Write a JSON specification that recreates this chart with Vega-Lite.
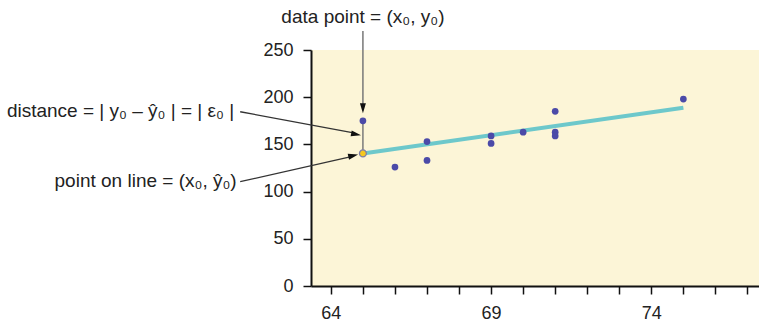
{
  "$schema": "https://vega.github.io/schema/vega-lite/v6.json",
  "width": 448,
  "height": 236,
  "autosize": "none",
  "padding": {"left": 311, "top": 50, "right": 0, "bottom": 38},
  "config": {
    "view": {"fill": "#FCF5D7", "stroke": null},
    "font": "Liberation Sans",
    "text": {"font": "Liberation Sans"}
  },
  "datasets": {
    "scores": [
      {"third_exam": 65, "final_exam": 175},
      {"third_exam": 67, "final_exam": 133},
      {"third_exam": 71, "final_exam": 185},
      {"third_exam": 71, "final_exam": 163},
      {"third_exam": 66, "final_exam": 126},
      {"third_exam": 75, "final_exam": 198},
      {"third_exam": 67, "final_exam": 153},
      {"third_exam": 70, "final_exam": 163},
      {"third_exam": 71, "final_exam": 159},
      {"third_exam": 69, "final_exam": 151},
      {"third_exam": 69, "final_exam": 159}
    ],
    "fit": [
      {"third_exam": 65, "final_exam": 140.44},
      {"third_exam": 75, "final_exam": 188.74}
    ]
  },
  "layer": [
    {
      "data": {"name": "fit"},
      "mark": {"type": "line", "color": "#6DC8CB", "strokeWidth": 4},
      "encoding": {
        "x": {
          "field": "third_exam", "type": "quantitative",
          "scale": {"domain": [63.38, 77.36], "nice": false, "zero": false},
          "axis": {
            "title": null, "grid": false,
            "values": [64, 65, 66, 67, 68, 69, 70, 71, 72, 73, 74, 75, 76, 77],
            "tickCount": 40,
            "format": "d",
            "labelExpr": "(datum.value - 64) % 5 === 0 ? datum.label : ''",
            "labelFlush": false, "labelOverlap": false,
            "domainColor": "#111", "domainWidth": 2,
            "tickColor": "#111", "tickWidth": 1.5, "tickSize": 8,
            "labelPadding": 10, "labelFontSize": 18, "labelColor": "#222",
            "labelFont": "Liberation Sans"
          }
        },
        "y": {
          "field": "final_exam", "type": "quantitative",
          "scale": {"domain": [0, 250], "nice": false},
          "axis": {
            "title": null, "grid": false,
            "values": [0, 50, 100, 150, 200, 250],
            "tickCount": 40,
            "format": "d",
            "labelOverlap": false,
            "domainColor": "#111", "domainWidth": 2,
            "tickColor": "#111", "tickWidth": 1.5, "tickSize": 8,
            "labelPadding": 10, "labelFontSize": 18, "labelColor": "#222",
            "labelFont": "Liberation Sans"
          }
        }
      }
    },
    {
      "data": {"values": [{"x": 65, "y": 175, "y2": 140.44}]},
      "mark": {"type": "rule", "color": "#7a7a7a", "strokeWidth": 1.5},
      "encoding": {
        "x": {"field": "x", "type": "quantitative"},
        "y": {"field": "y", "type": "quantitative"},
        "y2": {"field": "y2"}
      }
    },
    {
      "data": {"values": [{"x": 65, "y": 270, "y2": 186}]},
      "mark": {"type": "rule", "color": "#777777", "strokeWidth": 1.5},
      "encoding": {
        "x": {"field": "x", "type": "quantitative"},
        "y": {"field": "y", "type": "quantitative"},
        "y2": {"field": "y2"}
      }
    },
    {
      "data": {"values": [
        {"x": 61.17, "y": 184.6, "x2": 64.75, "y2": 161.9},
        {"x": 61.17, "y": 110.5, "x2": 64.6, "y2": 136.9}
      ]},
      "mark": {"type": "rule", "color": "#333333", "strokeWidth": 1.3},
      "encoding": {
        "x": {"field": "x", "type": "quantitative"},
        "y": {"field": "y", "type": "quantitative"},
        "x2": {"field": "x2"},
        "y2": {"field": "y2"}
      }
    },
    {
      "data": {"name": "scores"},
      "mark": {"type": "circle", "color": "#4B4AA8", "opacity": 1, "size": 45},
      "encoding": {
        "x": {"field": "third_exam", "type": "quantitative"},
        "y": {"field": "final_exam", "type": "quantitative"}
      }
    },
    {
      "data": {"values": [{"x": 65, "y": 140.44}]},
      "mark": {"type": "point", "shape": "circle", "filled": true, "fill": "#F6C81E", "stroke": "#8080A8", "strokeWidth": 1.3, "opacity": 1, "size": 48},
      "encoding": {
        "x": {"field": "x", "type": "quantitative"},
        "y": {"field": "y", "type": "quantitative"}
      }
    },
    {
      "data": {"values": [{"x": 65, "y": 183}]},
      "mark": {"type": "point", "shape": "M0,0L-2,-0.6L-2,0.6Z", "filled": true, "color": "#111", "opacity": 1, "size": 100, "angle": 90},
      "encoding": {
        "x": {"field": "x", "type": "quantitative"},
        "y": {"field": "y", "type": "quantitative"}
      }
    },
    {
      "data": {"values": [{"x": 64.94, "y": 159.6}]},
      "mark": {"type": "point", "shape": "M0,0L-2,-0.6L-2,0.6Z", "filled": true, "color": "#111", "opacity": 1, "size": 100, "angle": 11},
      "encoding": {
        "x": {"field": "x", "type": "quantitative"},
        "y": {"field": "y", "type": "quantitative"}
      }
    },
    {
      "data": {"values": [{"x": 64.85, "y": 139.3}]},
      "mark": {"type": "point", "shape": "M0,0L-2,-0.6L-2,0.6Z", "filled": true, "color": "#111", "opacity": 1, "size": 100, "angle": -13},
      "encoding": {
        "x": {"field": "x", "type": "quantitative"},
        "y": {"field": "y", "type": "quantitative"}
      }
    },
    {
      "data": {"values": [{"x": 65, "y": 278.3, "label": "data point = (x₀, y₀)"}]},
      "mark": {"type": "text", "align": "center", "baseline": "alphabetic", "fontSize": 19, "color": "#222"},
      "encoding": {
        "x": {"field": "x", "type": "quantitative"},
        "y": {"field": "y", "type": "quantitative"},
        "text": {"field": "label"}
      }
    },
    {
      "data": {"values": [
        {"x": 60.98, "y": 179, "label": "distance = | y₀ – ŷ₀ | = | ε₀ |"},
        {"x": 61.06, "y": 104.9, "label": "point on line = (x₀, ŷ₀)"}
      ]},
      "mark": {"type": "text", "align": "right", "baseline": "alphabetic", "fontSize": 19, "color": "#222"},
      "encoding": {
        "x": {"field": "x", "type": "quantitative"},
        "y": {"field": "y", "type": "quantitative"},
        "text": {"field": "label"}
      }
    }
  ]
}
